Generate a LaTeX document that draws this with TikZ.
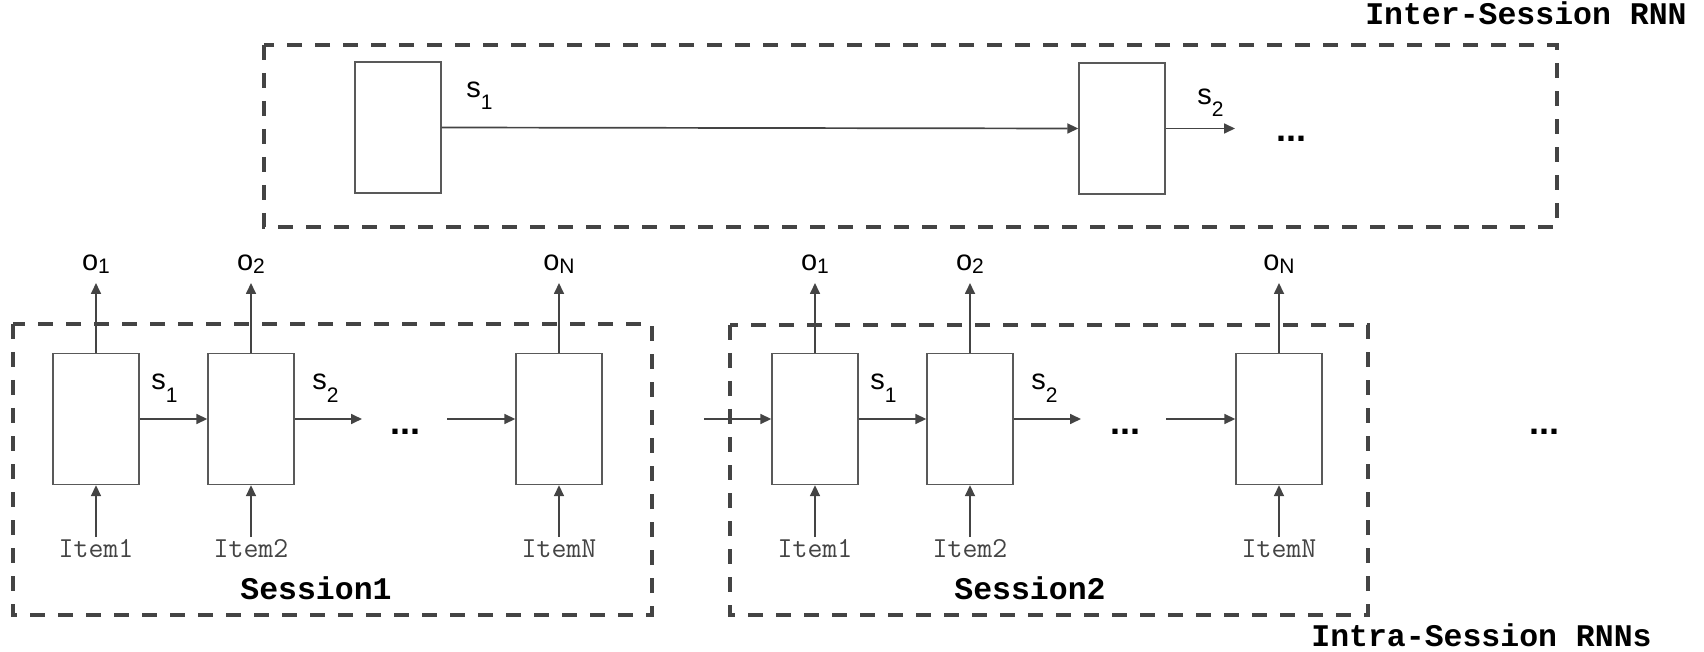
\documentclass[tikz,border=0pt]{standalone}
\usepackage{fontspec}
\setmainfont{Liberation Sans}
\newfontfamily\titlefont{Liberation Mono}
\usepackage{tikz}
\usetikzlibrary{arrows.meta}

\definecolor{linegray}{HTML}{444444}
\definecolor{boxgray}{HTML}{595959}

\newcommand{\stlab}[1]{s\raisebox{-6pt}{\fontsize{10.5}{12}\selectfont #1}}
\newcommand{\outlab}[1]{o\raisebox{-1.3pt}{\fontsize{10.5}{12}\selectfont #1}}

\tikzset{
  cell/.style={draw=boxgray,line width=0.7pt,fill=white,minimum width=43pt,minimum height=65.5pt,inner sep=0pt},
  arr/.style={draw=linegray,line width=0.85pt,-{Triangle[length=5.5pt,width=5pt]}},
  group/.style={draw=linegray,line width=2pt,dash pattern=on 7.5pt off 6.5pt},
  lab/.style={font=\fontsize{14.5}{16}\selectfont,inner sep=0pt},
  item/.style={font=\ttfamily\fontsize{14.5}{16}\selectfont,text=linegray,inner sep=0pt},
  title/.style={font=\titlefont\bfseries\fontsize{15.75}{18}\selectfont,inner sep=0pt},
  dots/.style={font=\bfseries\fontsize{18}{20}\selectfont,inner sep=0pt}
}

\begin{document}
\begin{tikzpicture}[x=0.5pt,y=-0.5pt]
\useasboundingbox (0,0) rectangle (1704,652);
% dashed groups
\draw[group] (264,45) rectangle (1557,227);
\draw[group] (13,324) rectangle (652,615);
\draw[group] (730,325) rectangle (1368,615);
\node[title,anchor=base east] (intertitle) at (1687,25) {Inter-Session RNN};
\node[title,anchor=base east] (intratitle) at (1652,646) {Intra-Session RNNs};
\node[title,anchor=base] (sess1) at (316,599) {Session1};
\node[title,anchor=base] (sess2) at (1030,599) {Session2};

% inter-session RNN
\node[cell] (t1) at (398,127.5) {};
\node[cell] (t2) at (1122,128.5) {};
\coordinate (t2r) at (1235,128.5);
\draw[arr] (t1.east) -- (t2.west);
\draw[arr] (t2.east) -- (t2r);
\node[lab,anchor=base west] (ts1) at (466,98) {\stlab{1}};
\node[lab,anchor=base west] (ts2) at (1197,105) {\stlab{2}};
\node[dots,anchor=base] (tdots) at (1291,142) {...};

% session 1
\node[cell] (a1) at (96,419) {};
\node[cell] (a2) at (251,419) {};
\node[cell] (aN) at (559,419) {};
\coordinate (a1o) at (96,283);
\coordinate (a2o) at (251,283);
\coordinate (aNo) at (559,283);
\coordinate (a1i) at (96,537);
\coordinate (a2i) at (251,537);
\coordinate (aNi) at (559,537);
\coordinate (a2r) at (362,419);
\coordinate (aNl) at (447,419);
\draw[arr] (a1.north) -- (a1o);
\draw[arr] (a2.north) -- (a2o);
\draw[arr] (aN.north) -- (aNo);
\draw[arr] (a1i) -- (a1.south);
\draw[arr] (a2i) -- (a2.south);
\draw[arr] (aNi) -- (aN.south);
\draw[arr] (a1.east) -- (a2.west);
\draw[arr] (a2.east) -- (a2r);
\draw[arr] (aNl) -- (aN.west);
\node[lab,anchor=base] (ao1) at (96,271) {\outlab{1}};
\node[lab,anchor=base] (ao2) at (251,271) {\outlab{2}};
\node[lab,anchor=base] (aoN) at (559,271) {\outlab{N}};
\node[lab,anchor=base west] (as1) at (151,390) {\stlab{1}};
\node[lab,anchor=base west] (as2) at (312,390) {\stlab{2}};
\node[dots,anchor=base] (adots) at (405,434.5) {...};
\node[item,anchor=base] (ai1) at (96,557) {Item1};
\node[item,anchor=base] (ai2) at (251,557) {Item2};
\node[item,anchor=base] (aiN) at (559,557) {ItemN};

% session 2
\node[cell] (b1) at (815,419) {};
\node[cell] (b2) at (970,419) {};
\node[cell] (bN) at (1279,419) {};
\coordinate (b1o) at (815,283);
\coordinate (b2o) at (970,283);
\coordinate (bNo) at (1279,283);
\coordinate (b1i) at (815,537);
\coordinate (b2i) at (970,537);
\coordinate (bNi) at (1279,537);
\coordinate (b1l) at (704,419);
\coordinate (b2r) at (1081,419);
\coordinate (bNl) at (1166,419);
\draw[arr] (b1.north) -- (b1o);
\draw[arr] (b2.north) -- (b2o);
\draw[arr] (bN.north) -- (bNo);
\draw[arr] (b1i) -- (b1.south);
\draw[arr] (b2i) -- (b2.south);
\draw[arr] (bNi) -- (bN.south);
\draw[arr] (b1l) -- (b1.west);
\draw[arr] (b1.east) -- (b2.west);
\draw[arr] (b2.east) -- (b2r);
\draw[arr] (bNl) -- (bN.west);
\node[lab,anchor=base] (bo1) at (815,271) {\outlab{1}};
\node[lab,anchor=base] (bo2) at (970,271) {\outlab{2}};
\node[lab,anchor=base] (boN) at (1279,271) {\outlab{N}};
\node[lab,anchor=base west] (bs1) at (870,390) {\stlab{1}};
\node[lab,anchor=base west] (bs2) at (1031,390) {\stlab{2}};
\node[dots,anchor=base] (bdots) at (1125,434.5) {...};
\node[dots,anchor=base] (enddots) at (1544,434.5) {...};
\node[item,anchor=base] (bi1) at (815,557) {Item1};
\node[item,anchor=base] (bi2) at (970,557) {Item2};
\node[item,anchor=base] (biN) at (1279,557) {ItemN};
\end{tikzpicture}
\end{document}
